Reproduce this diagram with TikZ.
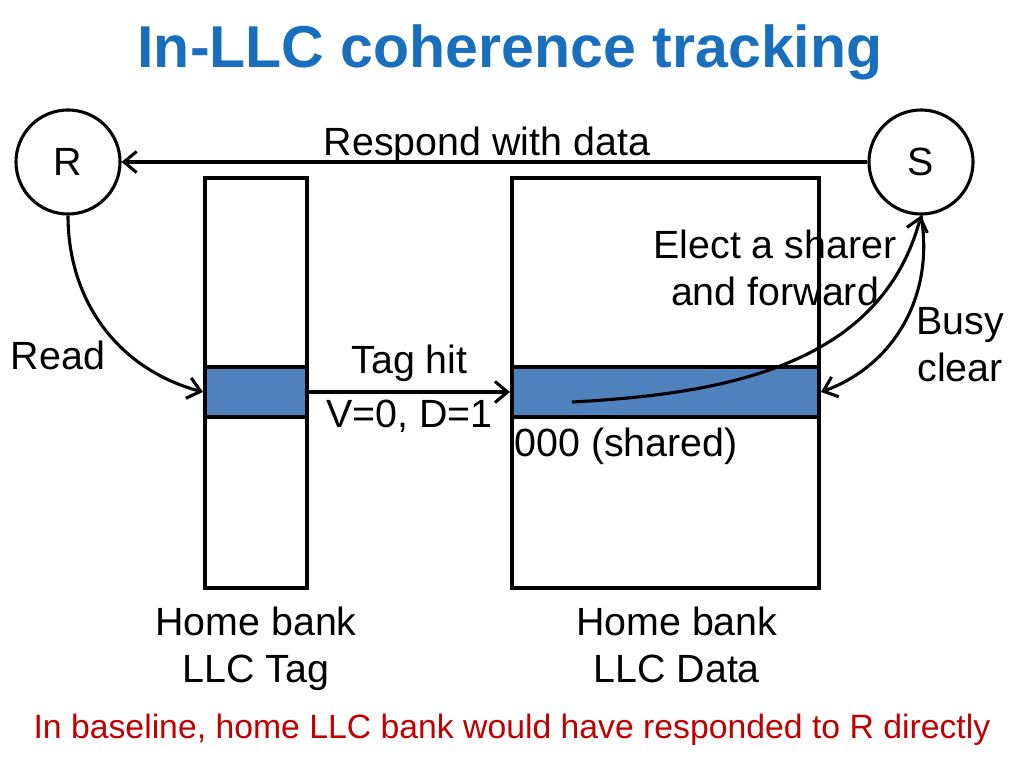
\documentclass[tikz,border=0pt]{standalone}
\usepackage{fontspec}
\setmainfont{Liberation Sans}
\usetikzlibrary{arrows.meta,positioning}
\definecolor{titleblue}{RGB}{25,110,190}
\definecolor{rowblue}{RGB}{79,129,189}
\definecolor{notered}{RGB}{192,0,0}

\begin{document}
\begin{tikzpicture}[
    x=0.025cm, y=-0.025cm,
    txt/.style={font=\fontsize{28}{33.6}\selectfont, align=center, inner sep=0pt},
    proc/.style={circle, draw, line width=2.2pt, minimum size=2.6cm, inner sep=0pt, font=\fontsize{28}{33.6}\selectfont},
    bank/.style={rectangle, draw, line width=2.8pt, minimum height=10.25cm, inner sep=0pt},
    row/.style={rectangle, draw, line width=2.8pt, fill=rowblue, minimum height=1.25cm, inner sep=0pt},
    arrow/.style={-{Straight Barb[length=9pt,width=15pt]}, line width=2.2pt}
]
    \useasboundingbox (0,0) rectangle (1024,768);
    \node[font=\bfseries\fontsize{42}{48}\selectfont, text=titleblue, anchor=base] (title) at (510,68) {In-LLC coherence tracking};

    \node[proc] (R) at (68,162) {R};
    \node[proc] (S) at (921,162) {S};

    \node[bank, minimum width=2.55cm] (tagbank) at (256,383) {};
    \node[bank, minimum width=7.675cm] (databank) at (665.5,383) {};
    \node[row, minimum width=2.55cm] (tagrow) at (256,392) {};
    \node[row, minimum width=7.675cm] (datarow) at (665.5,392) {};

    \draw[arrow] (S) -- node[txt, above=-2pt, pos=0.51] (respond) {Respond with data} (R);
    \draw[arrow] (tagrow) -- node[txt, above=6pt] (taghit) {Tag hit}
        node[txt, below=4.5pt] (tagbits) {V=0, D=1} (datarow);
    \draw[arrow] (R.south) to[out=-90, in=165] (tagrow.west);
    \coordinate (pick) at (572,402);
    \draw[arrow] (pick) to[out=3, in=-105] (S.south);
    \draw[arrow] (S.south) to[out=-80, in=20] (datarow.east);

    \node[txt] (read) at (58,355) {Read};
    \node[txt] (elect) at (775,268) {Elect a sharer\\and forward};
    \node[txt] (busy) at (960,345) {Busy\\clear};
    \node[txt, below right=6pt and 3pt of datarow.south west] (state) {000 (shared)};

    \node[txt, below=12pt of tagbank] (taglbl) {Home bank\\LLC Tag};
    \node[txt, below=12pt of databank, xshift=8pt] (datalbl) {Home bank\\LLC Data};

    \node[font=\fontsize{24}{28}\selectfont, text=notered, anchor=base] (note) at (512,738)
        {In baseline, home LLC bank would have responded to R directly};
\end{tikzpicture}
\end{document}
